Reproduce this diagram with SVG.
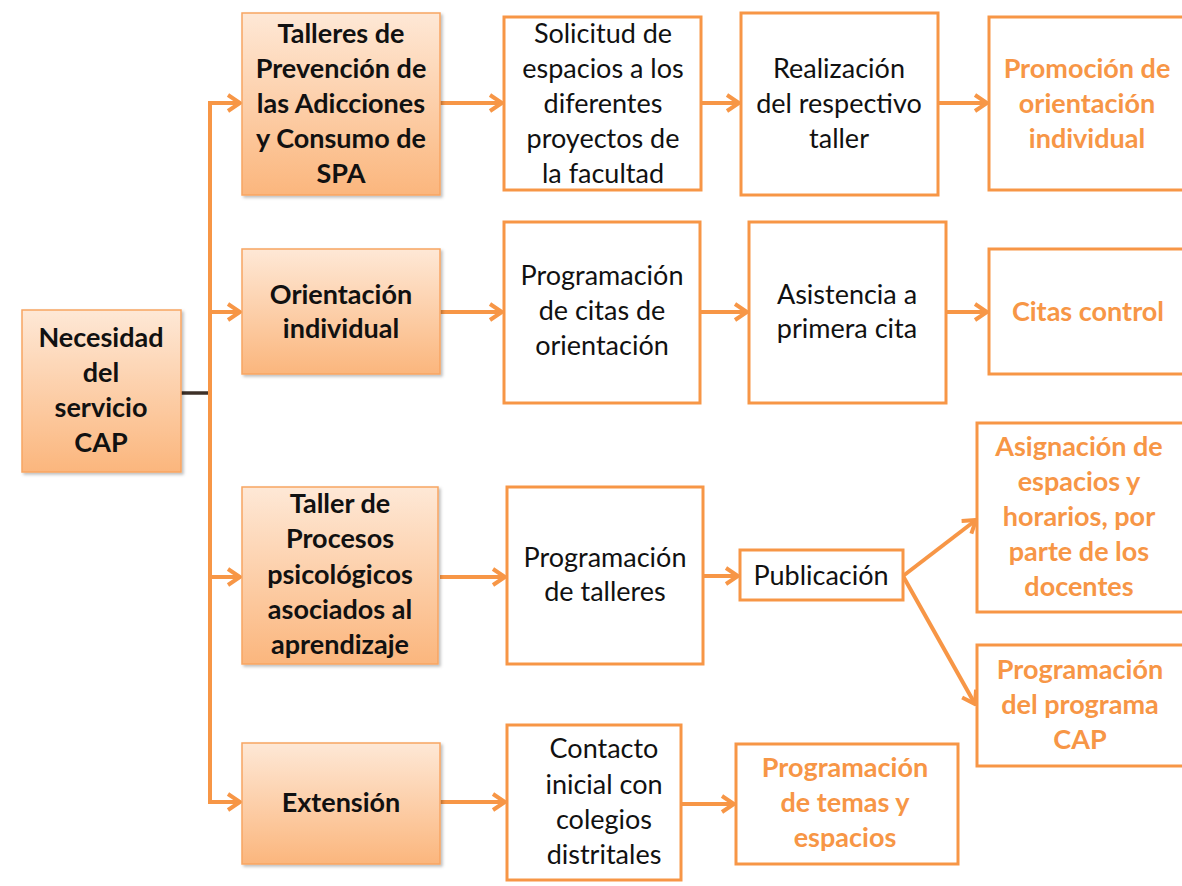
<svg xmlns="http://www.w3.org/2000/svg" width="1182" height="886" viewBox="0 0 1182 886">
<defs>
<linearGradient id="g" x1="0" y1="0" x2="0" y2="1">
<stop offset="0" stop-color="#fee8d6"/>
<stop offset="1" stop-color="#fbb67d"/>
</linearGradient>
<filter id="sh" x="-10%" y="-10%" width="130%" height="130%">
<feDropShadow dx="2" dy="2" stdDeviation="1.5" flood-color="#000" flood-opacity="0.25"/>
</filter>
<marker id="ah" viewBox="0 0 16 20" markerWidth="16" markerHeight="20" refX="14" refY="10" orient="auto" markerUnits="userSpaceOnUse">
<path d="M2,2 L14,10 L2,18" fill="none" stroke="#f79646" stroke-width="4"/>
</marker>
</defs>
<style>
.gb{fill:url(#g);stroke:#f8a562;stroke-width:1.5;filter:url(#sh)}
.wb{fill:#fff;stroke:#f79646;stroke-width:3}
.t{font-family:Lato,"Liberation Sans",sans-serif;font-size:27px;text-anchor:middle}
.b{font-weight:bold;fill:#111}
.r{fill:#111}
.o{font-weight:bold;fill:#f79646}
.c{fill:none;stroke:#f79646;stroke-width:4}
.ca{fill:none;stroke:#f79646;stroke-width:4;marker-end:url(#ah)}
</style>
<rect width="1182" height="886" fill="#fff"/>
<g id="connectors">
<line x1="181" y1="393" x2="212" y2="393" stroke="#3d3028" stroke-width="3.5"/>
<line class="c" x1="210" y1="101" x2="210" y2="804"/>
<line class="ca" x1="208" y1="103" x2="240" y2="103"/>
<line class="ca" x1="208" y1="312" x2="240" y2="312"/>
<line class="ca" x1="208" y1="577" x2="240" y2="577"/>
<line class="ca" x1="208" y1="802" x2="240" y2="802"/>
<line class="ca" x1="440" y1="103" x2="502" y2="103"/>
<line class="ca" x1="440" y1="312" x2="502" y2="312"/>
<line class="ca" x1="440" y1="577" x2="505" y2="577"/>
<line class="ca" x1="440" y1="802" x2="505" y2="802"/>
<line class="ca" x1="701" y1="103" x2="739" y2="103"/>
<line class="ca" x1="700" y1="312" x2="747" y2="312"/>
<line class="ca" x1="703" y1="576" x2="738" y2="576"/>
<line class="ca" x1="681" y1="804" x2="734" y2="804"/>
<line class="ca" x1="938" y1="103" x2="987" y2="103"/>
<line class="ca" x1="946" y1="312" x2="987" y2="312"/>
<line class="ca" x1="903" y1="576" x2="976" y2="520"/>
<line class="ca" x1="903" y1="576" x2="975" y2="704"/>
</g>
<g id="n-necesidad">
<rect class="gb" x="22" y="310" width="159" height="162"/>
<text class="t b" x="101" y="347">Necesidad</text>
<text class="t b" x="101" y="382">del</text>
<text class="t b" x="101" y="417">servicio</text>
<text class="t b" x="101" y="452">CAP</text>
</g>
<g id="n-talleres">
<rect class="gb" x="242" y="13" width="198" height="182"/>
<text class="t b" x="341" y="43">Talleres de</text>
<text class="t b" x="341" y="78">Prevención de</text>
<text class="t b" x="341" y="113">las Adicciones</text>
<text class="t b" x="341" y="148">y Consumo de</text>
<text class="t b" x="341" y="183">SPA</text>
</g>
<g id="n-orientacion">
<rect class="gb" x="242" y="249" width="198" height="125"/>
<text class="t b" x="341" y="304">Orientación</text>
<text class="t b" x="341" y="338">individual</text>
</g>
<g id="n-taller-procesos">
<rect class="gb" x="242" y="487" width="196" height="177"/>
<text class="t b" x="340" y="513">Taller de</text>
<text class="t b" x="340" y="548">Procesos</text>
<text class="t b" x="340" y="584">psicológicos</text>
<text class="t b" x="340" y="619">asociados al</text>
<text class="t b" x="340" y="654">aprendizaje</text>
</g>
<g id="n-extension">
<rect class="gb" x="242" y="743" width="198" height="121"/>
<text class="t b" x="341" y="812">Extensión</text>
</g>
<g id="n-solicitud">
<rect class="wb" x="504" y="17" width="197" height="173"/>
<text class="t r" x="603" y="43">Solicitud de</text>
<text class="t r" x="603" y="78">espacios a los</text>
<text class="t r" x="603" y="113">diferentes</text>
<text class="t r" x="603" y="148">proyectos de</text>
<text class="t r" x="603" y="183">la facultad</text>
</g>
<g id="n-prog-citas">
<rect class="wb" x="504" y="222" width="196" height="181"/>
<text class="t r" x="602" y="285">Programación</text>
<text class="t r" x="602" y="320">de citas de</text>
<text class="t r" x="602" y="355">orientación</text>
</g>
<g id="n-prog-talleres">
<rect class="wb" x="507" y="487" width="196" height="177"/>
<text class="t r" x="605" y="567">Programación</text>
<text class="t r" x="605" y="601">de talleres</text>
</g>
<g id="n-contacto">
<rect class="wb" x="507" y="725" width="174" height="155"/>
<text class="t r" x="604" y="758">Contacto</text>
<text class="t r" x="604" y="794">inicial con</text>
<text class="t r" x="604" y="829">colegios</text>
<text class="t r" x="604" y="864">distritales</text>
</g>
<g id="n-realizacion">
<rect class="wb" x="741" y="13" width="197" height="182"/>
<text class="t r" x="839" y="78">Realización</text>
<text class="t r" x="839" y="113">del respectivo</text>
<text class="t r" x="839" y="148">taller</text>
</g>
<g id="n-asistencia">
<rect class="wb" x="749" y="222" width="197" height="181"/>
<text class="t r" x="847" y="304">Asistencia a</text>
<text class="t r" x="847" y="338">primera cita</text>
</g>
<g id="n-publicacion">
<rect class="wb" x="740" y="550" width="163" height="50"/>
<text class="t r" x="821" y="585">Publicación</text>
</g>
<g id="n-prog-temas">
<rect class="wb" x="736" y="744" width="222" height="120"/>
<text class="t o" x="845" y="777">Programación</text>
<text class="t o" x="845" y="812">de temas y</text>
<text class="t o" x="845" y="847">espacios</text>
</g>
<g id="n-promocion">
<rect class="wb" x="989" y="17" width="200" height="173"/>
<text class="t o" x="1087" y="78">Promoción de</text>
<text class="t o" x="1087" y="113">orientación</text>
<text class="t o" x="1087" y="148">individual</text>
</g>
<g id="n-citas-control">
<rect class="wb" x="989" y="249" width="200" height="125"/>
<text class="t o" x="1088" y="321">Citas control</text>
</g>
<g id="n-asignacion">
<rect class="wb" x="977" y="423" width="212" height="189"/>
<text class="t o" x="1079" y="456">Asignación de</text>
<text class="t o" x="1079" y="491">espacios y</text>
<text class="t o" x="1079" y="526">horarios, por</text>
<text class="t o" x="1079" y="561">parte de los</text>
<text class="t o" x="1079" y="596">docentes</text>
</g>
<g id="n-prog-programa">
<rect class="wb" x="977" y="645" width="212" height="121"/>
<text class="t o" x="1080" y="679">Programación</text>
<text class="t o" x="1080" y="714">del programa</text>
<text class="t o" x="1080" y="749">CAP</text>
</g>
</svg>
